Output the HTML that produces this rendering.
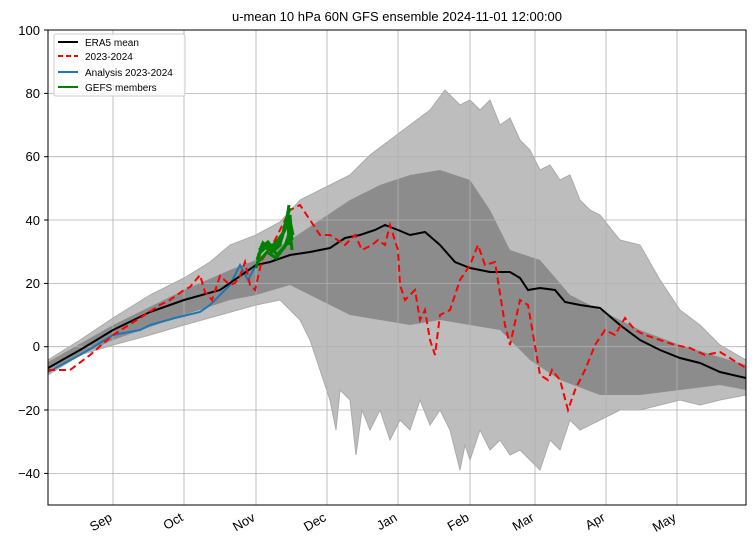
<!DOCTYPE html><html><head><style>body{margin:0;background:#fff}svg{font-family:"Liberation Sans","DejaVu Sans",sans-serif}</style></head><body>
<svg width="756" height="551" xmlns="http://www.w3.org/2000/svg">
<rect width="756" height="551" fill="#fff"/>
<text x="397" y="21" font-size="13" text-anchor="middle">u-mean 10 hPa 60N GFS ensemble 2024-11-01 12:00:00</text>
<defs><clipPath id="c"><rect x="48" y="30" width="698" height="475"/></clipPath></defs>
<g clip-path="url(#c)">
<polygon fill="#bdbdbd" stroke="#aaa" stroke-width="1" points="48,360 80,340 113,318 150,295 184,278 210,262 230,245 256,235 280,222 300,200 330,185 350,175 370,155 390,140 410,125 430,110 445,90 460,105 470,100 480,110 490,100 500,125 510,118 520,140 530,150 540,170 550,165 560,180 570,175 580,200 590,210 600,215 620,240 640,245 660,280 680,310 700,325 720,345 746,360 746,395 720,400 700,405 680,400 660,405 640,410 620,410 600,420 580,430 570,420 560,450 550,440 540,470 530,460 520,450 510,455 500,440 490,450 480,430 470,460 465,445 460,470 450,430 440,410 430,425 420,400 410,430 400,420 390,440 380,410 370,430 362,410 356,455 350,400 340,390 336,430 330,400 320,370 310,340 300,320 280,300 256,305 220,315 184,325 150,335 113,345 80,355 48,375"/>
<polygon fill="#8c8c8c" points="48,362 113,325 184,290 230,270 256,260 290,240 320,220 350,200 380,185 410,175 440,170 470,180 490,210 510,250 540,260 570,295 600,310 640,330 680,345 746,365 746,390 720,385 680,390 640,395 600,395 560,380 530,360 500,330 470,325 440,320 410,325 380,320 350,315 320,300 290,285 256,295 230,300 184,315 113,340 48,370"/>
</g>
<g stroke="#b0b0b0" stroke-width="0.8">
<line x1="113" y1="30" x2="113" y2="505"/><line x1="184" y1="30" x2="184" y2="505"/><line x1="256" y1="30" x2="256" y2="505"/><line x1="327" y1="30" x2="327" y2="505"/><line x1="398" y1="30" x2="398" y2="505"/><line x1="470" y1="30" x2="470" y2="505"/><line x1="535" y1="30" x2="535" y2="505"/><line x1="606" y1="30" x2="606" y2="505"/><line x1="677" y1="30" x2="677" y2="505"/>
<line x1="48" y1="93.4" x2="746" y2="93.4"/><line x1="48" y1="156.7" x2="746" y2="156.7"/><line x1="48" y1="220" x2="746" y2="220"/><line x1="48" y1="283.4" x2="746" y2="283.4"/><line x1="48" y1="346.7" x2="746" y2="346.7"/><line x1="48" y1="410" x2="746" y2="410"/><line x1="48" y1="473.4" x2="746" y2="473.4"/>
</g>
<g clip-path="url(#c)" fill="none">
<polyline stroke="#1f77b4" stroke-width="2" points="48,372 80,355 113,335 140,330 150,325 175,318 200,312 210,305 220,295 230,285 240,265 248,280 256,265"/>
<polyline stroke="#000" stroke-width="2" points="48,368 80,350 113,330 150,312 184,300 220,290 256,265 270,262 290,255 310,252 330,248 345,238 360,235 375,230 385,225 398,230 410,235 425,232 440,245 455,262 470,268 490,272 510,272 520,278 528,290 540,288 555,290 565,302 580,305 600,308 620,325 640,340 660,350 680,358 700,363 720,372 746,378"/>
<polyline stroke="#f00" stroke-width="2" stroke-dasharray="7,4" points="48,370 70,370 90,355 113,335 140,318 160,305 170,300 184,290 190,287 200,275 205,292 212,300 220,276 230,285 235,283 240,276 245,262 250,285 255,290 262,260 275,240 290,210 300,205 310,220 320,235 330,235 345,245 355,235 362,250 372,245 378,240 385,245 390,225 398,250 400,285 405,300 415,290 420,320 425,310 430,340 435,355 440,315 450,310 460,280 470,265 478,245 485,265 495,262 505,325 510,345 520,300 528,305 540,375 548,380 552,370 560,380 568,410 575,390 585,370 595,345 605,330 615,335 625,318 635,330 645,335 660,340 675,345 690,348 705,355 720,352 746,368"/>
<g stroke="#008000" stroke-width="3">
<polyline points="256,268 262,245 270,248 278,240 285,230 289,205"/>
<polyline points="257,260 263,243 272,252 280,245 286,220 290,208"/>
<polyline points="258,255 265,248 274,250 282,238 288,215 289,245"/>
<polyline points="259,250 266,244 275,246 284,232 290,215 292,240"/>
<polyline points="260,248 268,242 277,255 286,245 291,225 293,235"/>
<polyline points="258,262 267,252 276,258 284,248 290,232 292,250"/>
</g>
</g>
<rect x="48" y="30" width="698" height="475" fill="none" stroke="#000" stroke-width="1"/>
<g font-size="13" text-anchor="end">
<text x="40" y="35">100</text><text x="40" y="98">80</text><text x="40" y="161">60</text><text x="40" y="225">40</text><text x="40" y="288">20</text><text x="40" y="351">0</text><text x="40" y="415">−20</text><text x="40" y="478">−40</text>
</g>
<g stroke="#000"><line x1="44" y1="30" x2="48" y2="30"/><line x1="44" y1="93.4" x2="48" y2="93.4"/><line x1="44" y1="156.7" x2="48" y2="156.7"/><line x1="44" y1="220" x2="48" y2="220"/><line x1="44" y1="283.4" x2="48" y2="283.4"/><line x1="44" y1="346.7" x2="48" y2="346.7"/><line x1="44" y1="410" x2="48" y2="410"/><line x1="44" y1="473.4" x2="48" y2="473.4"/></g>
<g font-size="13" text-anchor="end">
<text transform="translate(113,520) rotate(-30)">Sep</text><text transform="translate(184,520) rotate(-30)">Oct</text><text transform="translate(256,520) rotate(-30)">Nov</text><text transform="translate(327,520) rotate(-30)">Dec</text><text transform="translate(398,520) rotate(-30)">Jan</text><text transform="translate(470,520) rotate(-30)">Feb</text><text transform="translate(535,520) rotate(-30)">Mar</text><text transform="translate(606,520) rotate(-30)">Apr</text><text transform="translate(677,520) rotate(-30)">May</text>
</g>
<rect x="54" y="34" width="131" height="62" fill="#fff" fill-opacity="0.85" stroke="#ccc" rx="2"/>
<g stroke-width="2"><line x1="58" y1="42" x2="78" y2="42" stroke="#000"/><line x1="58" y1="56" x2="78" y2="56" stroke="#f00" stroke-dasharray="5,3"/><line x1="58" y1="72" x2="78" y2="72" stroke="#1f77b4"/><line x1="58" y1="87" x2="78" y2="87" stroke="#008000"/></g>
<g font-size="10"><text x="85" y="46">ERA5 mean</text><text x="85" y="60">2023-2024</text><text x="85" y="76">Analysis 2023-2024</text><text x="85" y="91">GEFS members</text></g>
</svg></body></html>
